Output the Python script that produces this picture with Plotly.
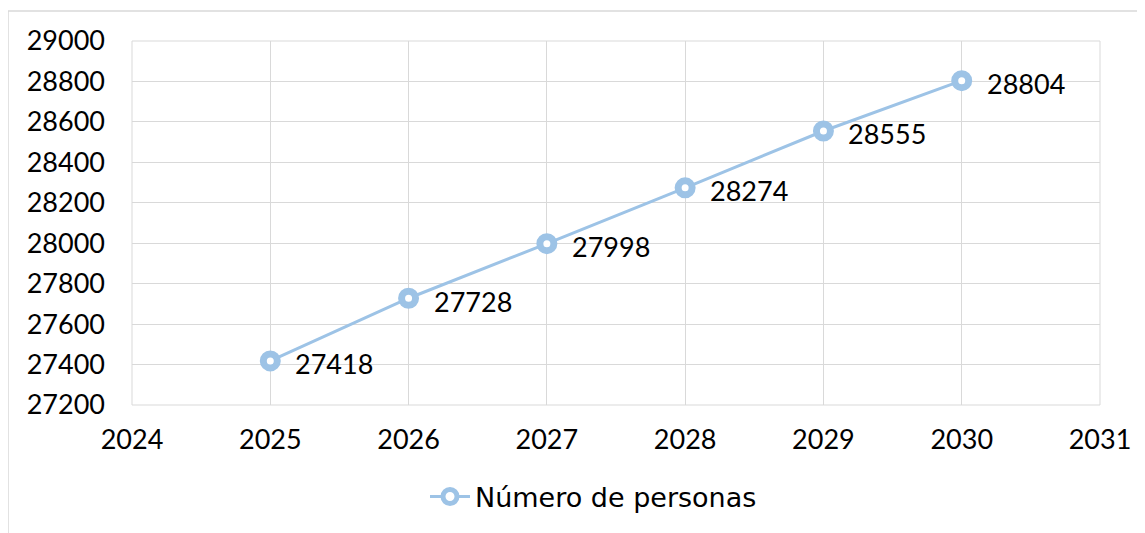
import plotly.graph_objects as go

years = [2025, 2026, 2027, 2028, 2029, 2030]
personas = [27418, 27728, 27998, 28274, 28555, 28804]
series_name = "Número de personas"

x_ticks = [2024, 2025, 2026, 2027, 2028, 2029, 2030, 2031]
y_ticks = [27200, 27400, 27600, 27800, 28000, 28200, 28400, 28600, 28800, 29000]

blue = "#9DC3E6"
grid = "#D9D9D9"
num_font = "Lato, 'DejaVu Sans', sans-serif"
txt_font = "'DejaVu Sans', sans-serif"

fig = go.Figure()
fig.add_trace(go.Scatter(
    x=years, y=personas, name=series_name,
    mode="lines+markers",
    line=dict(color=blue, width=3),
    marker=dict(symbol="circle", size=14, color="white", line=dict(color=blue, width=7)),
    cliponaxis=False,
))

# data labels, placed at the data points
for x, v in zip(years, personas):
    fig.add_annotation(x=x, y=v, text=str(v), showarrow=False,
                       xanchor="left", yanchor="middle", xshift=23, yshift=-3,
                       font=dict(size=27, color="#000000", family=num_font))

W, H = 1145, 533
# page body has an 8px offset
L, R, T, B = 124, 53, 33, 136
pw, ph = W - L - R, H - T - B

fig.update_layout(
    width=W, height=H,
    margin=dict(l=L, r=R, t=T, b=B, autoexpand=False),
    paper_bgcolor="white", plot_bgcolor="white",
    font=dict(family=num_font, size=27, color="#000000"),
    showlegend=True,
    legend=dict(orientation="h", x=(425 - 132) / pw, xanchor="left",
                y=-(497 - 405) / ph, yanchor="middle",
                font=dict(size=27, family=txt_font), itemwidth=40),
    xaxis=dict(range=[2024, 2031], tickvals=x_ticks, ticktext=[str(t) for t in x_ticks],
               showgrid=True, gridcolor=grid, gridwidth=1, zeroline=False,
               showline=False, ticks="", ticklabelstandoff=16, tickfont=dict(size=27)),
    yaxis=dict(range=[27200, 29000], tickvals=y_ticks, ticktext=[str(t) for t in y_ticks],
               showgrid=True, gridcolor=grid, gridwidth=1, zeroline=False,
               showline=False, ticks="", ticklabelstandoff=26, tickfont=dict(size=27)),
    shapes=[
        dict(type="rect", xref="paper", yref="paper",
             x0=0, x1=1, y0=0, y1=1, line=dict(color=grid, width=1), layer="below"),
        dict(type="rect", xref="paper", yref="paper",
             x0=(0 - L) / pw, x1=1.2, y0=-0.6, y1=1 + (T - 3) / ph,
             line=dict(color=grid, width=1.5), layer="below"),
    ],
)

fig.write_html("out.html")
